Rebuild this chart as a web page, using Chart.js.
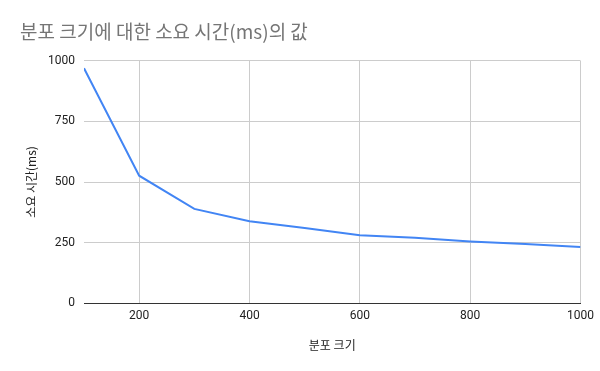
<!DOCTYPE html>
<html>
<head>
<meta charset="utf-8">
<script src="https://cdn.jsdelivr.net/npm/chart.js@4/dist/chart.umd.min.js"></script>
<style>
  html, body { margin: 0; padding: 0; background: #fff; }
  #wrap { width: 600px; height: 371px; }
</style>
</head>
<body>
<div id="wrap"><canvas id="chart-main"></canvas></div>
<script>
Chart.defaults.font.family = "Roboto, 'Noto Sans CJK KR', sans-serif";
Chart.defaults.color = '#222';

const sizes = [100, 200, 300, 400, 500, 600, 700, 800, 900, 1000];
const timesMs = [969, 526, 389, 338, 310, 280, 270, 255, 244, 232];
const xTicks = [200, 400, 600, 800, 1000];
const yTicks = [0, 250, 500, 750, 1000];

const TITLE = '분포 크기에 대한 소요 시간(ms)의 값';
const X_TITLE = '분포 크기';
const Y_TITLE = '소요 시간(ms)';

const ctx = document.getElementById('chart-main');
new Chart(ctx, {
    type: 'line',
    data: {
        datasets: [{
            label: Y_TITLE,
            data: sizes.map((s, i) => ({ x: s, y: timesMs[i] })),
            borderColor: '#4285f4', backgroundColor: '#4285f4',
            borderWidth: 2, pointRadius: 0, tension: 0, fill: false
        }]
    },
    options: {
        responsive: true, maintainAspectRatio: false, animation: false,
        layout: { padding: { left: 20, right: 18, top: 8, bottom: 14 } },
        plugins: {
            legend: { display: false },
            tooltip: { enabled: false },
            title: {
                display: true, text: TITLE, align: 'start', color: '#757575',
                font: { size: 19, weight: 'normal', family: "'Noto Sans CJK KR', sans-serif" },
                padding: { top: 12, bottom: 18 }
            }
        },
        scales: {
            x: {
                type: 'linear', min: 100, max: 1000,
                afterBuildTicks: s => { s.ticks = xTicks.map(v => ({ value: v })); },
                ticks: { font: { size: 12 }, padding: 6, maxRotation: 0, callback: v => String(v) },
                grid: { color: '#cccccc', drawTicks: false },
                border: { display: true, color: '#333333', width: 1 },
                title: { display: true, text: X_TITLE, font: { size: 12, family: "'Noto Sans CJK KR', sans-serif" }, padding: { top: 9 } }
            },
            y: {
                min: 0, max: 1000,
                afterBuildTicks: s => { s.ticks = yTicks.map(v => ({ value: v })); },
                afterFit: s => { s.width = 64; },
                ticks: { font: { size: 12 }, padding: 9, callback: v => String(v) },
                grid: { color: c => c.tick.value === 0 ? '#333333' : '#cccccc', drawTicks: false },
                border: { display: false },
                title: { display: true, text: Y_TITLE, font: { size: 12, family: "'Noto Sans CJK KR', sans-serif" } }
            }
        }
    }
});
</script>
</body>
</html>
